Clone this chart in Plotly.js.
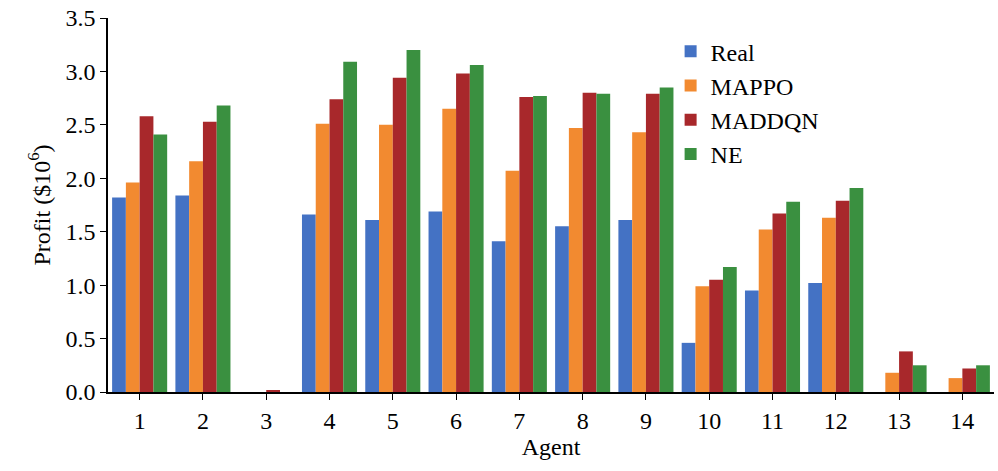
<html><head><script src="https://cdn.plot.ly/plotly-3.0.1.min.js"></script>
<style>body{margin:0}</style></head><body><div id="c" style="width:998px;height:471px"></div><script>
const agents=['1','2','3','4','5','6','7','8','9','10','11','12','13','14'];
const real=[1.82,1.84,0,1.66,1.61,1.69,1.41,1.55,1.61,0.46,0.95,1.02,0,0];
const mappo=[1.96,2.16,0,2.51,2.50,2.65,2.07,2.47,2.43,0.99,1.52,1.63,0.18,0.13];
const maddqn=[2.58,2.53,0.01,2.74,2.94,2.98,2.76,2.80,2.79,1.05,1.67,1.79,0.38,0.22];
const ne=[2.41,2.68,0,3.09,3.20,3.06,2.77,2.79,2.85,1.17,1.78,1.91,0.25,0.25];
const names=['Real','MAPPO','MADDQN','NE'];
const colors=['#4472C4','#F28A30','#A8282B','#3A9040'];
const data=[real,mappo,maddqn,ne].map((v,i)=>({type:'bar',x:agents,y:v,name:names[i],marker:{color:colors[i]}}));
const tf={family:'Liberation Serif, serif',size:24,color:'#000'};
Plotly.newPlot('c',data,{width:998,height:471,margin:{l:108,r:4,t:18,b:79},
font:tf,plot_bgcolor:'#fff',paper_bgcolor:'#fff',
bargap:0.13,bargroupgap:0,
xaxis:{type:'category',dtick:1,tickfont:tf,title:{text:'Agent',standoff:2,font:tf},showline:true,linecolor:'#000',linewidth:1.5,ticks:'outside',ticklen:6,tickcolor:'#000'},
yaxis:{tickfont:tf,title:{text:'Profit ($10<sup>6</sup>)',font:tf},range:[0,3.5],dtick:0.5,tickformat:'.1f',showline:true,linecolor:'#000',linewidth:1.5,ticks:'outside',ticklen:6,tickcolor:'#000',showgrid:false,zeroline:false},
legend:{x:0.635,y:0.97,xanchor:'left',yanchor:'top',font:tf,bgcolor:'rgba(0,0,0,0)',tracegroupgap:0,itemwidth:30}
},{displayModeBar:false});
</script></body></html>
